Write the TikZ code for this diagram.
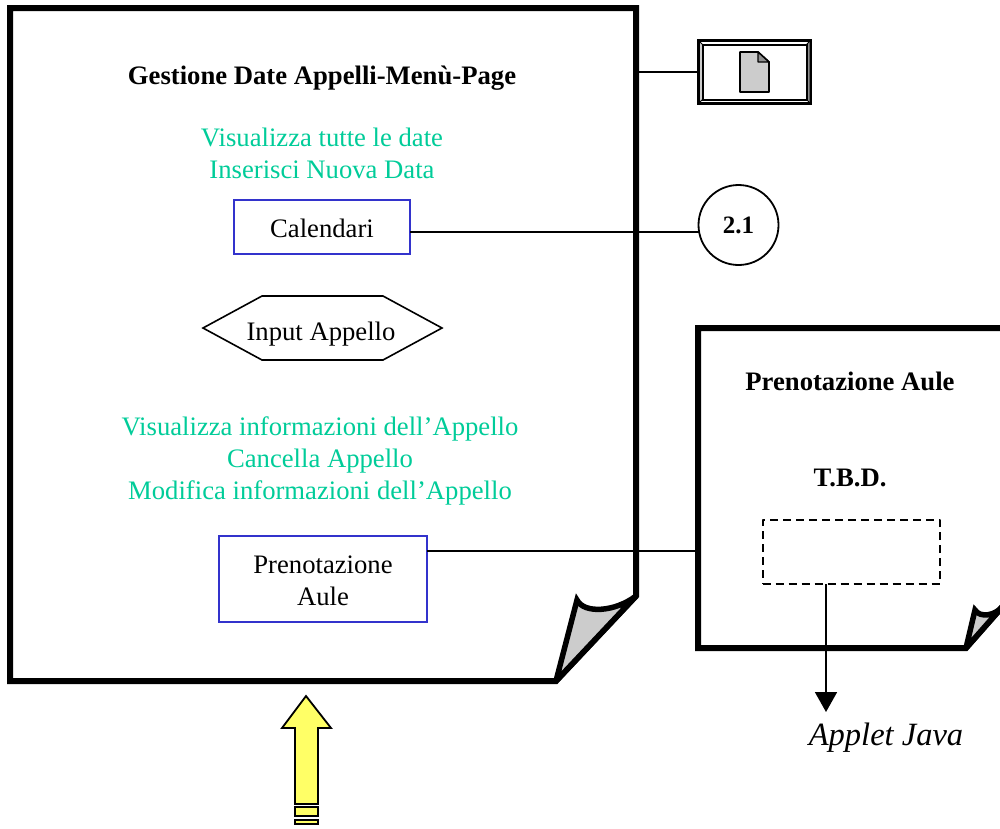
\documentclass[tikz,border=0pt]{standalone}
\usepackage{fontspec}
\setmainfont{Liberation Serif}
\usetikzlibrary{arrows.meta}
\definecolor{menuteal}{HTML}{00CC99}
\definecolor{boxblue}{HTML}{3333CC}
\definecolor{foldgrey}{HTML}{CCCCCC}
\definecolor{arrowyellow}{HTML}{FFFF66}
\tikzset{
  x=1pt,y=-1pt,
  pageline/.style={draw=black,line width=6pt,line join=miter,miter limit=2},
  curlline/.style={draw=black,line width=5.5pt,line join=miter,miter limit=8,line cap=round},
  wire/.style={draw=black,line width=1.8pt},
  txt/.style={font=\fontsize{26.67pt}{32pt}\selectfont,align=center,inner sep=0pt},
  boldtxt/.style={txt,font=\fontsize{26.67pt}{32pt}\selectfont\bfseries},
  menu/.style={txt,text=menuteal},
  linkbox/.style={draw=boxblue,line width=1.6pt,fill=white},
  yellowpart/.style={draw=black,line width=1.8pt,fill=arrowyellow,line join=miter},
}
\begin{document}
\begin{tikzpicture}
\useasboundingbox (0,0) rectangle (1000,828);
% main page
\draw[pageline,fill=white] (10,8) -- (636,8) -- (636,596) -- (556,681) -- (10,681) -- cycle;
\fill[foldgrey] (556,681) -- (577,600) .. controls (584,614) and (615,612) .. (636,596) -- cycle;
\draw[curlline] (556,681) -- (577,600) .. controls (584,614) and (615,612) .. (636,596) -- (556,681);
\coordinate (pageMenu) at (636,72);
% second page
\begin{scope}
\clip (690,320) rectangle (1000,660);
\draw[pageline,fill=white] (698,328) -- (1003,328) -- (1003,606) -- (966,648) -- (698,648) -- cycle;
\fill[foldgrey] (966,648) -- (975,610) .. controls (980,618) and (995,616) .. (1003,606) -- cycle;
\draw[curlline] (966,648) -- (975,610) .. controls (980,618) and (995,616) .. (1003,606) -- (966,648);
\end{scope}
% texts
\node[boldtxt] (title) at (322,78) {Gestione Date Appelli-Menù-Page};
\node[menu] (menuA) at (322,153) {Visualizza tutte le date\\Inserisci Nuova Data};
\node[linkbox,minimum width=176pt,minimum height=54pt,label={[txt,yshift=-1pt]center:Calendari}] (cal) at (322,227) {};
\draw[draw=black,line width=1.6pt,fill=white] (203,328) -- (262,296) -- (383,296) -- (442,328) -- (383,360) -- (262,360) -- cycle;
\node[txt] (input) at (321,334) {Input Appello};
\node[menu] (menuB) at (320,461) {Visualizza informazioni dell’Appello\\Cancella Appello\\Modifica informazioni dell’Appello};
\node[linkbox,minimum width=208pt,minimum height=86pt,label={[txt,yshift=-2pt]center:Prenotazione\\Aule}] (pren) at (323,579) {};
% right side
\node[draw=black,line width=1.8pt,fill=white,circle,minimum size=80pt,inner sep=0pt,font=\fontsize{25pt}{32pt}\selectfont\bfseries] (c21) at (738.5,225) {2.1};
\node[boldtxt] (pa) at (850,381) {Prenotazione Aule};
\node[boldtxt] (tbd) at (850,478) {T.B.D.};
\node[draw=black,dash pattern=on 8pt off 5pt,line width=2pt,line join=round,minimum width=177pt,minimum height=64pt,inner sep=0pt] (dash) at (851,552) {};
\coordinate (dashOut) at (826,584);
\coordinate (page2Edge) at (698,551);
\coordinate (calOut) at (410,232);
\coordinate (circleIn) at (699,232);
\coordinate (prenOut) at (427,551);
\node[txt,font=\fontsize{32.5pt}{36pt}\selectfont\itshape] (java) at (886,738) {Applet Java};
\coordinate (javaTop) at (826,712);
% icon
\node[draw=black,line width=2.5pt,fill=white,minimum width=112pt,minimum height=63pt,inner sep=0pt] (icon) at (754.5,72) {};
\fill[foldgrey] (700,42) -- (703,45) -- (703,99) -- (700,102) -- cycle;
\fill[foldgrey!70!black] (809.5,42) -- (806,45) -- (806,99) -- (809.5,102) -- cycle;
\draw[black,line width=2pt] (703,44.5) rectangle (806.5,99.5);
\draw[black,line width=1pt] (699,41) -- (703,45) (810,41) -- (806,45) (699,103) -- (703,99) (810,103) -- (806,99);
\draw[black,line width=1.8pt,fill=foldgrey,line join=round] (740,52) -- (758,52) -- (769,62) -- (769,92) -- (740,92) -- cycle;
\draw[black,line width=1.4pt,fill=foldgrey!70!black,line join=round] (758,52) -- (769,62) -- (758,62) -- cycle;
% connectors
\draw[wire] (pageMenu) -- (icon.west);
\draw[wire] (calOut) -- (circleIn);
\draw[wire] (prenOut) -- (page2Edge);
\draw[wire,-{Triangle[length=20pt,width=22pt]}] (dashOut) -- (javaTop);
% yellow arrow
\draw[yellowpart] (306,696) -- (331,728) -- (318,728) -- (318,804) -- (295,804) -- (295,728) -- (282,728) -- cycle;
\draw[yellowpart] (295,807) rectangle (318,816);
\draw[yellowpart] (295,820) rectangle (318,824);
\end{tikzpicture}
\end{document}
